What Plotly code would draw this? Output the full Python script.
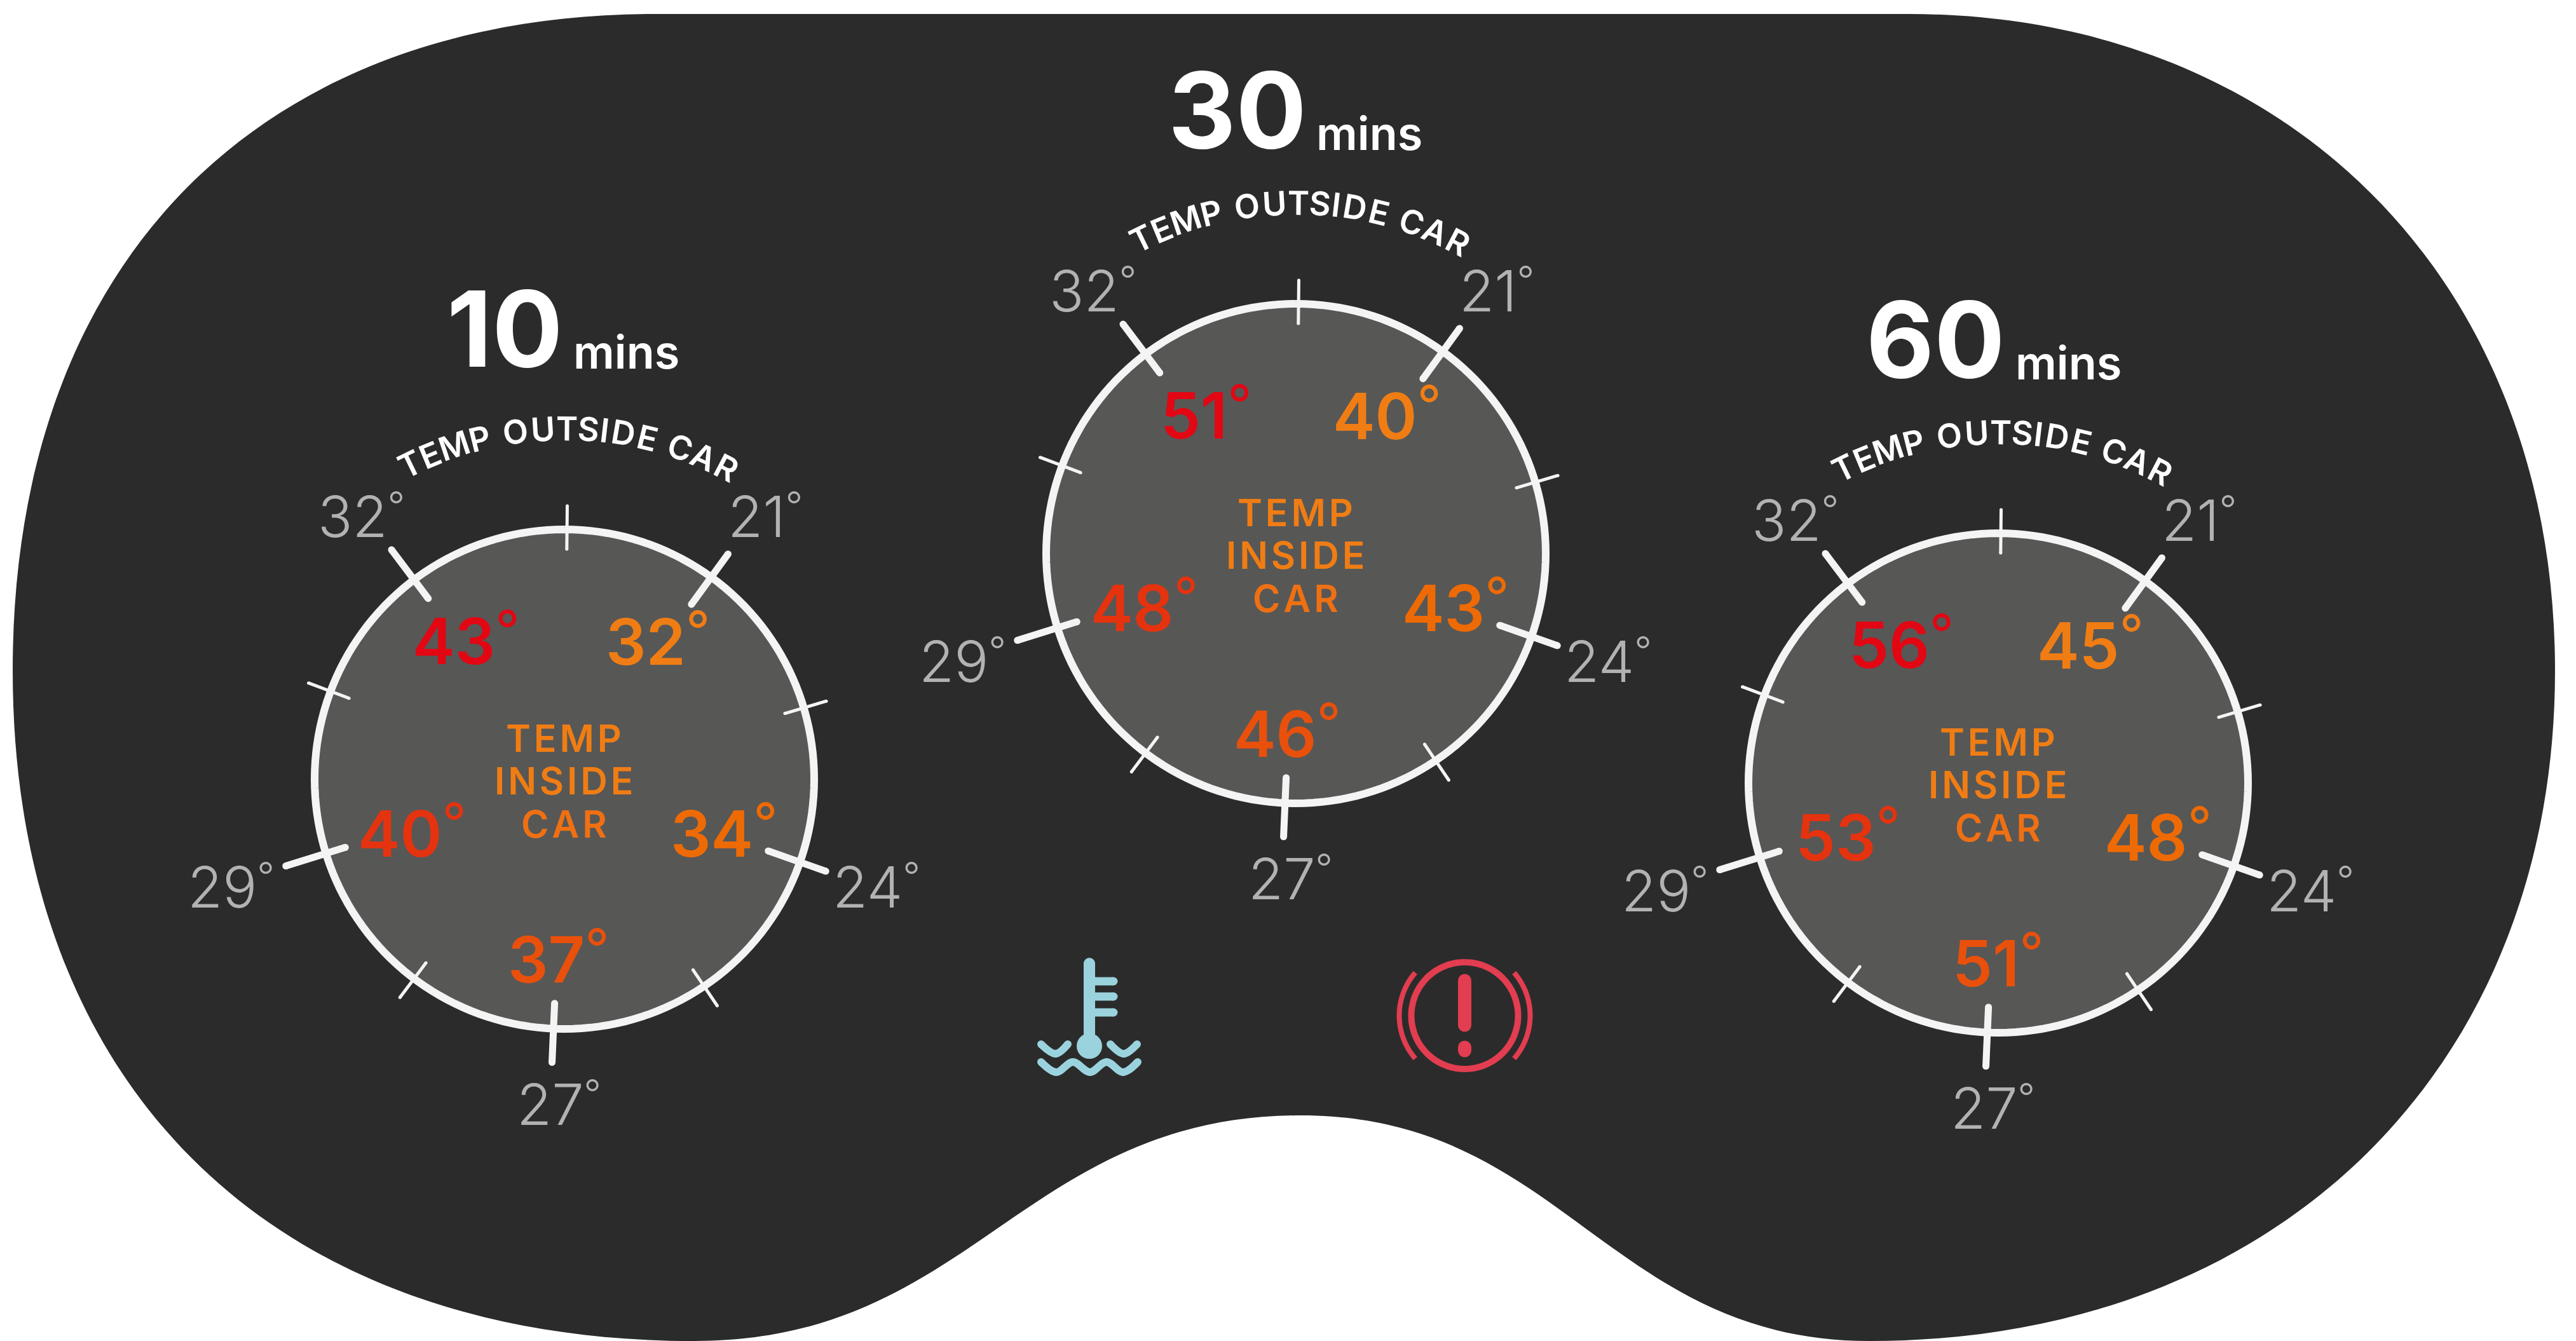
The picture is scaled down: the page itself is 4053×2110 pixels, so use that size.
import math
import numpy as np
import plotly.graph_objects as go

# ---------- data ----------
minutes = ["10", "30", "60"]
outside_temps = [21, 24, 27, 29, 32]
inside_10 = [32, 34, 37, 40, 43]
inside_30 = [40, 43, 46, 48, 51]
inside_60 = [45, 48, 51, 53, 56]
inside_colors = ["#F07D14", "#EE6A05", "#E8500C", "#E5330F", "#E30613"]

gauge_cx = [888, 2039, 3144]
gauge_cy = [1226, 871, 1232]
title_dx = [-94, -92, -99]
mins_dx = [12, 30, 25]

major_angles = [36, 109.4, 182.5, 252.7, -37]
major_inner = [340, 340, 353, 361, 356]
major_outer = [438, 436, 446, 459, 452]
minor_angles = [0.6, 73.4, 146, 217, 290.6]

label_edge = [374, 559, 57, -457, -252]
label_dy = [-414, 169, 511, 169, -414]
value_edge = [228, 335, 70, -155, -71]
value_dy = [-221, 81, 279, 81, -222]

# outline of the cluster: anchor, then the two control points leading to the next anchor
blob_path = [
    ("M", 1033, 22),
    ("C", 405, 22, 20, 415, 20, 1055),
    ("C", 20, 1709, 428, 2110, 1093, 2110),
    ("C", 1530, 2110, 1610, 1755, 2047, 1755),
    ("C", 2457, 1755, 2532, 2110, 2942, 2110),
    ("C", 3582, 2110, 4020, 1682, 4020, 1055),
    ("C", 4020, 445, 3602, 22, 3002, 22),
    ("L", 1033, 22),
]

FONT = "Inter"
BG = "#2B2B2B"
DISC = "#575756"
RING = "#F4F4F4"
GREY = "#B2B2B2"
ICON_BLUE = "#9AD3DE"
ICON_RED = "#E23D50"

# the page body has an 8 px margin
PAGE = 8

fig = go.Figure()
annos = []


def text(x, y, s, size, color, weight=400, angle=0, anchor="center"):
    annos.append(dict(x=x, y=y, xref="x", yref="y", text=s, showarrow=False,
                      xanchor=anchor, yanchor="middle", textangle=angle,
                      font=dict(family=FONT, size=size, color=color, weight=weight)))


def degrees(v, size, weight, shift):
    return (f'{v}<span style="font-size:{size}px;font-weight:{weight};'
            f'baseline-shift:{shift}px">°</span>')


def polar(cx, cy, ang, r):
    a = math.radians(ang)
    return cx + r * math.sin(a), cy - r * math.cos(a)


def segs(items, width, color):
    xs, ys = [], []
    for (x0, y0, x1, y1) in items:
        xs += [x0, x1, None]
        ys += [y0, y1, None]
    fig.add_trace(go.Scatter(x=xs, y=ys, mode="lines+markers", hoverinfo="skip",
                             line=dict(color=color, width=width),
                             marker=dict(color=color, size=width, line=dict(width=0))))


def spaced(s, sp="\u200a"):
    return sp.join(s)


arc_letters = "TEMP OUTSIDE CAR"
adv = dict(T=.62, E=.62, M=.86, P=.66, O=.82, U=.74, S=.62, I=.3, D=.78, C=.72, A=.74, R=.68)
adv[" "] = .3

insides = [inside_10, inside_30, inside_60]
for g, (cx, cy) in enumerate(zip(gauge_cx, gauge_cy)):
    th = np.radians(np.linspace(0, 360, 181))
    rx = cx + 393 * np.sin(th)
    ry = cy - 393 * np.cos(th)
    fig.add_trace(go.Scatter(x=rx, y=ry, mode="lines", fill="toself", fillcolor=DISC,
                             line=dict(color=RING, width=12, simplify=False), hoverinfo="skip"))
    segs([polar(cx, cy, a, 362) + polar(cx, cy, a, 430) for a in minor_angles], 5, RING)
    segs([polar(cx, cy, a, major_inner[i]) + polar(cx, cy, a, major_outer[i])
          for i, a in enumerate(major_angles)], 11, RING)

    for i in range(5):
        text(cx + label_edge[i] + 3, cy + label_dy[i], degrees(outside_temps[i], 60, 300, 28),
             90, GREY, 350, anchor="right")
        text(cx + value_edge[i] + 3, cy + value_dy[i], degrees(insides[g][i], 84, 400, 24),
             100, inside_colors[i], 600, anchor="right")

    text(cx - 1, cy - 65, spaced("TEMP"), 59, "#F07D14", 600)
    text(cx - 1, cy + 2, spaced("INSIDE"), 59, "#F07D14", 600)
    text(cx - 1, cy + 70, spaced("CAR"), 59, "#EF7012", 600)

    base = cy - 638 + (0 if g else -11)
    text(cx + title_dx[g], base - 60, minutes[g], 165, "#FFFFFF", 700)
    text(cx + mins_dx[g], base - 24, "mins", 72, "#FFFFFF", 600, anchor="left")

    # curved caption, one letter at a time
    total = sum(adv[c] for c in arc_letters) - (adv["T"] + adv["R"]) / 2
    pos = 0.0
    for j, c in enumerate(arc_letters):
        if j:
            pos += (adv[arc_letters[j - 1]] + adv[c]) / 2
        if c == " ":
            continue
        ang = 0.7 + (-26.8 + 53.6 * pos / total)
        px, py = polar(cx, cy, ang, 552)
        text(px, py, c, 52, "#FFFFFF", 600, angle=ang)

# ---------- coolant icon ----------
stem_x, stem_top, stem_bot = 1714, 1516, 1640
segs([(stem_x, stem_top, stem_x, stem_bot)], 18, ICON_BLUE)
segs([(stem_x, y, 1752, y) for y in (1544, 1568, 1593)], 13, ICON_BLUE)
fig.add_trace(go.Scatter(x=[stem_x], y=[1646], mode="markers", hoverinfo="skip",
                         marker=dict(size=40, color=ICON_BLUE, line=dict(width=0))))
for wx, wy in ([[1638, 1661, 1680], [1643, 1658, 1643]],
               [[1747, 1768, 1789], [1643, 1658, 1643]],
               [[1638, 1662, 1688, 1715, 1741, 1767, 1790], [1671, 1687, 1671, 1687, 1671, 1687, 1671]]):
    fig.add_trace(go.Scatter(x=wx, y=wy, mode="lines+markers", hoverinfo="skip",
                             line=dict(color=ICON_BLUE, width=12, shape="spline"),
                             marker=dict(color=ICON_BLUE, size=12, line=dict(width=0))))

# ---------- brake icon ----------
bx, by = 2304.5, 1598
th = np.radians(np.linspace(0, 360, 121))
fig.add_trace(go.Scatter(x=bx + 84 * np.sin(th), y=by - 84 * np.cos(th), mode="lines",
                         hoverinfo="skip", line=dict(color=ICON_RED, width=10, simplify=False)))
for mid in (-90, 90):
    th = np.radians(np.linspace(mid - 41, mid + 41, 33))
    fig.add_trace(go.Scatter(x=bx + 103 * np.sin(th), y=by - 103 * np.cos(th), mode="lines",
                             hoverinfo="skip", line=dict(color=ICON_RED, width=8, simplify=False)))
segs([(bx, 1543, bx, 1613)], 21, ICON_RED)
segs([(bx, 1648, bx, 1653)], 21, ICON_RED)

path = " ".join(c[0] + " " + " ".join(f"{v},{w}" for v, w in zip(c[1::2], c[2::2])) for c in blob_path) + " Z"

fig.update_layout(
    width=4053, height=2110, margin=dict(l=0, r=0, t=0, b=0),
    paper_bgcolor="#FFFFFF", plot_bgcolor="#FFFFFF", showlegend=False,
    xaxis=dict(range=[PAGE, 4053 + PAGE], visible=False, fixedrange=True),
    yaxis=dict(range=[2110 + PAGE, PAGE], visible=False, fixedrange=True),
    shapes=[dict(type="path", path=path, xref="x", yref="y", fillcolor=BG,
                 line=dict(width=0), layer="below")],
    annotations=annos,
)
fig.write_html("out.html")
